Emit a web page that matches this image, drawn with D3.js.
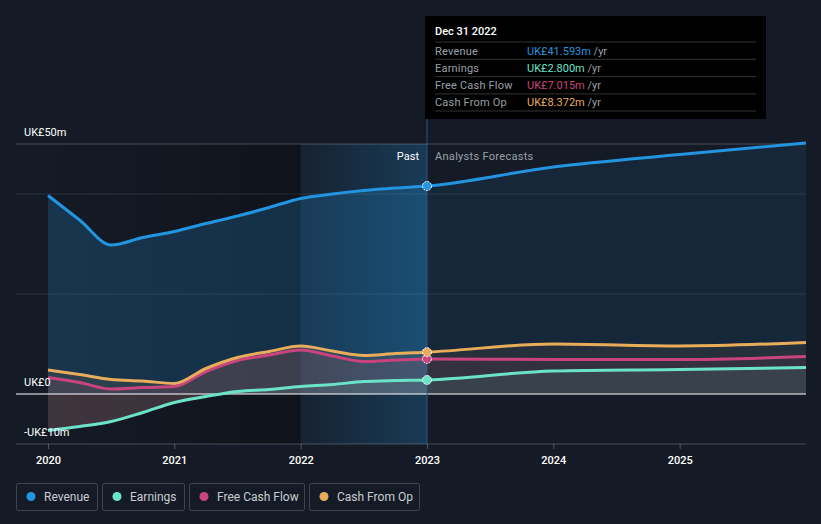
<!DOCTYPE html>
<html>
<head>
<meta charset="utf-8">
<script src="https://cdn.jsdelivr.net/npm/d3@7"></script>
<style>
  body { margin: 0; background: #151b26; font-family: Roboto, "Noto Sans", sans-serif; }
  svg { display: block; }
</style>
</head>
<body>
<svg width="821" height="524"></svg>
<script>
// data (UK£m)
var pastYears = [2020.0, 2020.25, 2020.5, 2020.75, 2021.0, 2021.25, 2021.5, 2021.75, 2022.0, 2022.25, 2022.5, 2022.75, 2023.0];
var pastRevenue = [39.7, 34.8, 29.8, 31.3, 32.5, 34.1, 35.6, 37.3, 39.1, 40.0, 40.7, 41.2, 41.593];
var pastEarnings = [-7.3, -6.5, -5.5, -3.7, -1.7, -0.5, 0.5, 0.9, 1.5, 1.9, 2.5, 2.7, 2.8];
var pastFcf = [3.3, 2.3, 1.0, 1.3, 1.5, 4.5, 6.7, 7.8, 8.8, 7.6, 6.5, 6.8, 7.015];
var pastCfo = [4.8, 3.9, 2.9, 2.6, 2.1, 5.1, 7.3, 8.5, 9.6, 8.6, 7.7, 8.1, 8.372];

var forecastYears = [2023.0, 2024.0, 2025.0, 2026.0];
var fcRevenue = [41.593, 45.4, 47.9, 50.2];
var fcEarnings = [2.8, 4.6, 4.9, 5.3];
var fcFcf = [7.015, 6.9, 6.9, 7.5];
var fcCfo = [8.372, 10.0, 9.6, 10.3];

var xTicks = [2020, 2021, 2022, 2023, 2024, 2025];
var yLabels = [{ v: 50, t: "UK£50m" }, { v: 0, t: "UK£0" }, { v: -10, t: "-UK£10m" }];
var gridValues = [50, 40, 20];

var seriesNames = ["Revenue", "Earnings", "Free Cash Flow", "Cash From Op"];
var seriesColors = ["#2394df", "#6be3c9", "#c9447f", "#e8ac5a"];
var tooltipValues = ["UK£41.593m", "UK£2.800m", "UK£7.015m", "UK£8.372m"];

var svg = d3.select("svg");

var x = d3.scaleLinear().domain([2020, 2026]).range([48, 806]);
var y = d3.scaleLinear().domain([-10, 50]).range([444, 144]);

function toPoints(years, vals) {
    return years.map(function(yr, i) { return { x: yr, v: vals[i] }; });
}
var series = [
    toPoints(pastYears, pastRevenue).concat(toPoints(forecastYears, fcRevenue).slice(1)),
    toPoints(pastYears, pastEarnings).concat(toPoints(forecastYears, fcEarnings).slice(1)),
    toPoints(pastYears, pastFcf).concat(toPoints(forecastYears, fcFcf).slice(1)),
    toPoints(pastYears, pastCfo).concat(toPoints(forecastYears, fcCfo).slice(1))
];

var defs = svg.append("defs");
var gPast = defs.append("linearGradient").attr("id", "pastShade").attr("x1", 0).attr("x2", 1).attr("y1", 0).attr("y2", 0);
gPast.append("stop").attr("offset", "0%").attr("stop-color", "#000").attr("stop-opacity", 0);
gPast.append("stop").attr("offset", "100%").attr("stop-color", "#000").attr("stop-opacity", 0.28);
var gHi = defs.append("linearGradient").attr("id", "hiShade").attr("x1", 0).attr("x2", 1).attr("y1", 0).attr("y2", 0);
gHi.append("stop").attr("offset", "0%").attr("stop-color", "#2394df").attr("stop-opacity", 0.06);
gHi.append("stop").attr("offset", "100%").attr("stop-color", "#2394df").attr("stop-opacity", 0.26);

defs.append("clipPath").attr("id", "above").append("rect")
    .attr("x", 0).attr("y", 0).attr("width", 821).attr("height", y(0));
defs.append("clipPath").attr("id", "below").append("rect")
    .attr("x", 0).attr("y", y(0)).attr("width", 821).attr("height", 100);
defs.append("clipPath").attr("id", "past").append("rect")
    .attr("x", 0).attr("y", 0).attr("width", x(2023)).attr("height", 524);
defs.append("clipPath").attr("id", "future").append("rect")
    .attr("x", x(2023)).attr("y", 0).attr("width", 821).attr("height", 524);

// background shading
svg.append("rect").attr("x", 16).attr("y", y(50)).attr("width", x(2022) - 16).attr("height", y(-10) - y(50))
    .attr("fill", "url(#pastShade)");
svg.append("rect").attr("x", x(2022)).attr("y", y(50)).attr("width", x(2023) - x(2022)).attr("height", y(-10) - y(50))
    .attr("fill", "url(#hiShade)");

// grid
svg.selectAll(".grid").data(gridValues).enter().append("line")
    .attr("x1", 16).attr("x2", 806)
    .attr("y1", function(d) { return y(d); }).attr("y2", function(d) { return y(d); })
    .attr("stroke", "#ffffff").attr("stroke-opacity", function(d) { return d == 50 ? 0.22 : 0.1; });

var line = d3.line().x(function(d) { return x(d.x); }).y(function(d) { return y(d.v); }).curve(d3.curveMonotoneX);
var area = d3.area().x(function(d) { return x(d.x); }).y0(y(0)).y1(function(d) { return y(d.v); }).curve(d3.curveMonotoneX);

// areas
var fillOp = [[0.22, 0.1], [0.13, 0.1], [0.13, 0.08], [0.1, 0.08]];
series.forEach(function(s, i) {
    svg.append("path").attr("d", area(s)).attr("fill", seriesColors[i])
        .attr("fill-opacity", fillOp[i][0]).attr("clip-path", "url(#past)");
    svg.append("path").attr("d", area(s)).attr("fill", seriesColors[i])
        .attr("fill-opacity", fillOp[i][1]).attr("clip-path", "url(#future)");
});
// negative earnings shown in red
svg.append("g").attr("clip-path", "url(#below)").append("path")
    .attr("d", area(series[1])).attr("fill", "#e0404f").attr("fill-opacity", 0.16);

// zero line and bottom axis
svg.append("line").attr("x1", 16).attr("x2", 806).attr("y1", y(0)).attr("y2", y(0))
    .attr("stroke", "#ffffff").attr("stroke-width", 1.2);
svg.append("line").attr("x1", 16).attr("x2", 806).attr("y1", y(-10)).attr("y2", y(-10))
    .attr("stroke", "#ffffff").attr("stroke-opacity", 0.22);

// lines
series.forEach(function(s, i) {
    svg.append("path").attr("d", line(s)).attr("fill", "none")
        .attr("stroke", seriesColors[i]).attr("stroke-width", 3);
});

// hover marker
svg.append("line").attr("x1", x(2023)).attr("x2", x(2023)).attr("y1", 16).attr("y2", y(-10))
    .attr("stroke", "#2a5f86").attr("stroke-opacity", 0.6).attr("stroke-width", 1.5);
var hoverVals = [41.593, 2.8, 7.015, 8.372];
svg.selectAll(".dot").data(hoverVals).enter().append("circle")
    .attr("cx", x(2023)).attr("cy", function(d) { return y(d); }).attr("r", 4.5)
    .attr("fill", function(d, i) { return seriesColors[i]; })
    .attr("stroke", "#fff").attr("stroke-width", 1).attr("stroke-dasharray", "2,1");

// axes text
var xAxis = svg.append("g").attr("transform", "translate(0," + y(-10) + ")")
    .call(d3.axisBottom(x).tickValues(xTicks).tickFormat(d3.format("d")).tickSize(5).tickPadding(7));
xAxis.select(".domain").remove();
xAxis.selectAll("line").attr("stroke", "#ffffff").attr("stroke-opacity", 0.25);
xAxis.selectAll("text").attr("fill", "#ffffff").attr("font-size", 11).attr("font-family", "Roboto").attr("font-weight", 500);

svg.selectAll(".ylab").data(yLabels).enter().append("text")
    .attr("x", 24).attr("y", function(d) { return y(d.v) - 8; })
    .attr("fill", "#ffffff").attr("font-size", 11).attr("font-family", "Roboto")
    .text(function(d) { return d.t; });

svg.append("text").attr("x", x(2023) - 8).attr("y", 160).attr("text-anchor", "end")
    .attr("fill", "#ffffff").attr("font-size", 11).text("Past");
svg.append("text").attr("x", x(2023) + 8).attr("y", 160)
    .attr("fill", "#9aa0a8").attr("font-size", 11).attr("letter-spacing", 0.3).text("Analysts Forecasts");

// tooltip
var tip = svg.append("g").attr("transform", "translate(425,16)");
tip.append("rect").attr("width", 341).attr("height", 103).attr("fill", "#000000");
tip.append("text").attr("x", 10).attr("y", 19).attr("fill", "#fff").attr("font-size", 11)
    .attr("font-weight", 500).text("Dec 31 2022");
seriesNames.forEach(function(n, i) {
    var ry = 26 + i * 17.3;
    tip.append("line").attr("x1", 10).attr("x2", 331).attr("y1", ry).attr("y2", ry)
        .attr("stroke", "#ffffff").attr("stroke-opacity", 0.2);
    tip.append("text").attr("x", 10).attr("y", ry + 12.5).attr("fill", "#9aa0a8").attr("font-size", 11)
        .attr("letter-spacing", 0.2).text(n);
    var t = tip.append("text").attr("x", 102).attr("y", ry + 12.5).attr("font-size", 11);
    t.append("tspan").attr("fill", seriesColors[i]).text(tooltipValues[i]);
    t.append("tspan").attr("fill", "#9aa0a8").text(" /yr");
});
tip.append("line").attr("x1", 10).attr("x2", 331).attr("y1", 95).attr("y2", 95)
    .attr("stroke", "#ffffff").attr("stroke-opacity", 0.2);

// legend
var legW = [81, 82, 115, 110];
var lx = 16;
seriesNames.forEach(function(n, i) {
    var g = svg.append("g").attr("transform", "translate(" + lx + ",483)");
    g.append("rect").attr("x", 0.5).attr("y", 0.5).attr("width", legW[i]).attr("height", 27).attr("rx", 2)
        .attr("fill", "none").attr("stroke", "#ffffff").attr("stroke-opacity", 0.18);
    g.append("circle").attr("cx", 15).attr("cy", 13.5).attr("r", 4.5).attr("fill", seriesColors[i]);
    g.append("text").attr("x", 28).attr("y", 17.5).attr("fill", "#c8ccd2").attr("font-size", 12).text(n);
    lx += legW[i] + 5;
});
</script>
</body>
</html>
